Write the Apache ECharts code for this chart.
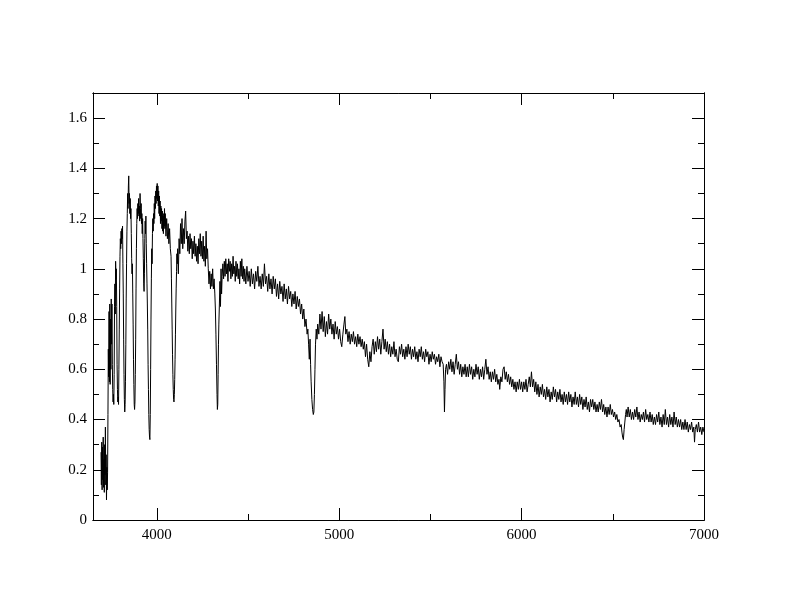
<!DOCTYPE html>
<html>
<head>
<meta charset="utf-8">
<title>Spectrum</title>
<script src="https://cdn.jsdelivr.net/npm/echarts@6/dist/echarts.min.js"></script>
<style>
  html, body { margin: 0; padding: 0; background: #fff; }
  #chart { width: 792px; height: 612px; }
</style>
</head>
<body>
<div id="chart"></div>
<script>
// wavelength / flux pairs, split by region
const balmerJump = [
  [3694,0.27],[3696,0.14],[3698,0.31],[3700,0.12],[3702,0.29],[3704,0.16],[3706,0.33],[3708,0.13],
  [3710,0.24],[3712,0.11],[3714,0.30],[3716,0.18],[3718,0.37],[3720,0.14],[3722,0.26],[3724,0.08],
  [3726,0.21],[3728,0.12],[3730,0.19]
]

const balmerSeries = [
  [3732,0.42],[3734,0.68],[3736,0.57],[3738,0.83],[3740,0.55],[3742,0.86],[3744,0.54],[3746,0.80],
  [3748,0.60],[3750,0.88],[3752,0.70],[3754,0.86],[3756,0.62],[3758,0.52],[3760,0.47],[3762,0.50],
  [3764,0.46],[3766,0.58],[3768,0.85],[3770,0.94],[3772,0.82],[3774,1.03],[3776,0.96],[3778,1.00],
  [3780,0.85],[3782,0.62],[3784,0.52],[3786,0.47],[3788,0.49],[3790,0.46],[3792,0.60],[3794,0.76],
  [3796,0.92],[3798,1.05],[3800,1.12],[3802,1.08],[3804,1.15],[3806,1.10],[3808,1.16],[3810,1.12],
  [3812,1.17],[3814,1.02],[3816,0.90],[3818,0.72],[3820,0.58],[3822,0.48],[3824,0.43],[3826,0.46],
  [3828,0.55],[3830,0.70],[3832,0.88],[3834,1.02],[3836,1.15],[3838,1.22],[3840,1.30],[3842,1.24],
  [3844,1.33],[3846,1.37],[3848,1.26],[3850,1.30],[3852,1.22],[3854,1.28],[3856,1.20],[3858,1.24],
  [3860,1.14],[3862,1.04],[3864,0.98],[3866,1.02],[3868,0.90],[3870,0.78],[3872,0.64],[3874,0.54],
  [3876,0.46],[3878,0.44],[3880,0.47],[3882,0.58],[3884,0.72],[3886,0.92],[3888,1.08],[3890,1.18],
  [3892,1.24],[3894,1.20],[3896,1.26],[3898,1.22],[3900,1.28],[3902,1.21],[3904,1.25],[3906,1.19],
  [3908,1.30],[3910,1.24],[3912,1.20],[3914,1.26],[3916,1.18],[3918,1.22],[3920,1.14],[3922,1.20],
  [3924,1.12],[3926,1.04],[3928,0.94],[3930,0.91],[3932,0.98],[3934,1.12],[3936,1.19],[3938,1.14],
  [3940,1.21],[3942,1.10],[3944,1.02],[3946,0.94],[3948,0.86],[3950,0.76],[3952,0.62],[3954,0.52],
  [3956,0.42],[3958,0.36],[3960,0.33],[3962,0.32],[3964,0.42],[3966,0.60],[3968,0.80],[3970,0.96],
  [3972,1.08],[3974,1.02],[3976,1.14],[3978,1.20],[3980,1.15],[3982,1.22],[3984,1.18],[3986,1.26],
  [3988,1.20],[3990,1.29],[3992,1.24],[3994,1.31],[3996,1.26],[3998,1.33],[4000,1.28],[4002,1.34],
  [4004,1.27],[4006,1.33],[4008,1.25],[4010,1.31],[4012,1.22],[4014,1.29],[4016,1.21],[4018,1.27],
  [4020,1.18],[4022,1.25],[4024,1.19],[4026,1.24],[4028,1.16],[4030,1.23],[4032,1.15],[4034,1.21],
  [4036,1.14],[4038,1.22],[4040,1.17],[4042,1.24],[4044,1.16],[4046,1.22],[4050,1.13],[4054,1.20],
  [4058,1.12],[4062,1.18],[4066,1.10],[4070,1.16],[4074,1.08],[4078,1.05],[4080,0.96],[4082,0.86],
  [4084,0.76],[4086,0.66],[4088,0.58],[4090,0.52],[4092,0.48],[4094,0.47],[4096,0.50],[4098,0.56],
  [4100,0.64],[4102,0.74],[4104,0.84],[4106,0.92],[4108,0.99],[4110,1.06],[4112,1.02]
]

const blueContinuum = [
  [4114,1.08],[4118,0.98],[4122,1.12],[4126,1.06],[4130,1.18],[4134,1.10],[4138,1.20],[4142,1.08],
  [4146,1.16],[4150,1.10],[4154,1.19],[4158,1.23],[4162,1.12],[4166,1.15],[4170,1.07],[4174,1.13],
  [4178,1.06],[4182,1.14],[4186,1.08],[4190,1.12],[4194,1.04],[4198,1.11],[4202,1.06],[4206,1.13],
  [4210,1.05],[4214,1.10],[4218,1.03],[4222,1.09],[4226,1.02],[4230,1.12],[4234,1.06],[4238,1.14],
  [4242,1.05],[4246,1.11],[4250,1.04],[4254,1.13],[4258,1.03],[4262,1.09],[4266,1.01],[4270,1.15],
  [4274,1.04],[4278,1.08],[4282,1.00],[4286,0.94],[4290,0.99],[4294,0.92],[4298,0.98],[4302,0.93],
  [4306,1.00],[4310,0.92],[4314,0.96],[4318,0.90],[4321,0.84],[4324,0.74],[4327,0.62],[4330,0.50],
  [4332,0.44],[4334,0.46],[4336,0.58],[4338,0.70],[4340,0.78],[4343,0.86],[4346,0.95],[4349,0.85],
  [4352,1.00],[4355,0.90],[4358,0.97],[4362,1.02],[4366,0.96],[4370,1.03],[4374,0.97],[4378,1.04],
  [4382,0.98],[4386,1.02],[4390,0.95],[4394,1.04],[4398,0.99],[4402,1.03],[4406,0.96],[4410,1.02],
  [4414,0.97],[4418,1.05],[4422,0.98],[4426,1.01],[4430,0.95],[4434,1.03],[4438,0.97],[4442,1.02],
  [4446,0.96],[4450,1.00],[4454,0.94],[4458,1.03],[4462,0.97],[4466,1.04],[4470,0.96],[4474,1.01],
  [4478,0.95],[4482,1.00]
]

const greenRegion = [
  [4488,0.94],[4494,1.01],[4500,0.95],[4506,0.99],[4512,0.93],[4518,1.00],[4524,0.94],[4530,0.98],
  [4536,0.92],[4542,0.99],[4548,0.95],[4554,1.01],[4560,0.93],[4566,0.97],[4572,0.92],[4578,0.98],
  [4584,0.93],[4590,1.02],[4596,0.94],[4602,0.97],[4608,0.91],[4614,0.98],[4620,0.92],[4626,0.96],
  [4632,0.90],[4638,0.97],[4644,0.92],[4650,0.96],[4656,0.89],[4662,0.94],[4668,0.88],[4674,0.95],
  [4680,0.90],[4686,0.93],[4692,0.87],[4698,0.94],[4704,0.88],[4710,0.92],[4716,0.86],[4722,0.93],
  [4728,0.88],[4734,0.91],[4740,0.85],[4746,0.90],[4752,0.86],[4758,0.91],[4764,0.84],[4770,0.89],
  [4776,0.85],[4782,0.88],[4788,0.82],[4794,0.86],[4800,0.80],[4806,0.84],[4812,0.77],[4818,0.80],
  [4824,0.74],[4828,0.76],[4832,0.70],[4836,0.64],[4840,0.72],[4843,0.62],[4846,0.55],[4850,0.48],
  [4854,0.44],[4858,0.42],[4861,0.43],[4864,0.50],[4867,0.60],[4870,0.70],[4874,0.76],[4878,0.72],
  [4882,0.78],[4888,0.74],[4894,0.82],[4900,0.76],[4906,0.83],[4912,0.75],[4918,0.81],[4924,0.73],
  [4930,0.79],[4936,0.74],[4942,0.82],[4948,0.76],[4954,0.80],[4960,0.74],[4966,0.78],[4972,0.72],
  [4978,0.79],[4984,0.74],[4990,0.77],[4996,0.72],[5002,0.76],[5008,0.71],[5014,0.69],[5020,0.74],
  [5026,0.78],[5031,0.81],[5036,0.74],[5042,0.76],[5048,0.71],[5054,0.75],[5060,0.70],[5066,0.74],
  [5072,0.71],[5078,0.75],[5084,0.70],[5090,0.73],[5096,0.69],[5102,0.74],[5108,0.70],[5114,0.73],
  [5120,0.69],[5126,0.72],[5132,0.68],[5138,0.71],[5144,0.65],[5150,0.70],[5156,0.64],[5162,0.61],
  [5168,0.67],[5174,0.63],[5180,0.69],[5186,0.72],[5192,0.66],[5198,0.71],[5204,0.67],[5210,0.73],
  [5216,0.68],[5222,0.72],[5228,0.66],[5234,0.71],[5240,0.76],[5246,0.68],[5252,0.72],[5258,0.67],
  [5264,0.71],[5270,0.66],[5276,0.70],[5282,0.65],[5288,0.69],[5294,0.66],[5300,0.71],[5306,0.65],
  [5312,0.68],[5318,0.64],[5324,0.63],[5330,0.69],[5336,0.66],[5342,0.70],[5348,0.65],[5354,0.68],
  [5360,0.64],[5366,0.69],[5372,0.65],[5378,0.70],[5384,0.66],[5390,0.69],[5396,0.64],[5402,0.68],
  [5408,0.65],[5414,0.69],[5420,0.64],[5426,0.67],[5432,0.63],[5438,0.68],[5444,0.65],[5450,0.69],
  [5456,0.64],[5462,0.67],[5468,0.63],[5474,0.68],[5480,0.65],[5486,0.67],[5492,0.62],[5498,0.66],
  [5504,0.63],[5510,0.67],[5516,0.64],[5522,0.66],[5528,0.62],[5534,0.65],[5540,0.63],[5546,0.66],
  [5552,0.61],[5558,0.65],[5564,0.63],[5570,0.62],[5574,0.55],[5577,0.43],[5580,0.52],[5583,0.60]
]

const redRegion = [
  [5588,0.62],[5594,0.58],[5600,0.63],[5606,0.60],[5612,0.64],[5618,0.59],[5624,0.63],[5630,0.58],
  [5636,0.62],[5642,0.66],[5648,0.60],[5654,0.63],[5660,0.58],[5666,0.62],[5672,0.57],[5678,0.61],
  [5684,0.58],[5690,0.62],[5696,0.57],[5702,0.61],[5708,0.57],[5714,0.62],[5720,0.58],[5726,0.61],
  [5732,0.56],[5738,0.60],[5744,0.57],[5750,0.62],[5756,0.58],[5762,0.61],[5768,0.56],[5774,0.60],
  [5780,0.57],[5786,0.61],[5792,0.56],[5798,0.60],[5804,0.64],[5810,0.58],[5816,0.61],[5822,0.56],
  [5828,0.59],[5834,0.55],[5840,0.59],[5846,0.56],[5852,0.60],[5858,0.55],[5864,0.58],[5870,0.54],
  [5876,0.56],[5880,0.52],[5886,0.57],[5892,0.55],[5898,0.60],[5904,0.61],[5910,0.56],[5916,0.59],
  [5922,0.55],[5928,0.58],[5934,0.54],[5940,0.57],[5946,0.53],[5952,0.56],[5958,0.52],[5964,0.55],
  [5970,0.51],[5976,0.55],[5982,0.52],[5988,0.56],[5994,0.52],[6000,0.55],[6006,0.51],[6012,0.55],
  [6018,0.52],[6024,0.56],[6030,0.51],[6036,0.54],[6042,0.57],[6048,0.53],[6054,0.59],[6060,0.53],
  [6066,0.56],[6072,0.51],[6078,0.55],[6084,0.50],[6090,0.54],[6096,0.49],[6102,0.53],[6108,0.50],
  [6114,0.54],[6120,0.49],[6126,0.52],[6132,0.48],[6138,0.53],[6144,0.49],[6150,0.52],[6156,0.47],
  [6162,0.51],[6168,0.48],[6174,0.53],[6180,0.49],[6186,0.52],[6192,0.47],[6198,0.51],[6204,0.48],
  [6210,0.52],[6216,0.47],[6222,0.50],[6228,0.46],[6234,0.51],[6240,0.47],[6246,0.50],[6252,0.46],
  [6258,0.51],[6264,0.47],[6270,0.50],[6276,0.45],[6282,0.49],[6288,0.46],[6294,0.51],[6300,0.46],
  [6306,0.49],[6312,0.45],[6318,0.50],[6324,0.46],[6330,0.49],[6336,0.44],[6342,0.48],[6348,0.45],
  [6354,0.49],[6360,0.44],[6366,0.47],[6372,0.43],[6378,0.48],[6384,0.45],[6390,0.48],[6396,0.44],
  [6402,0.47],[6408,0.43],[6414,0.46],[6420,0.43],[6426,0.47],[6432,0.44],[6438,0.48],[6444,0.43],
  [6450,0.46],[6456,0.42],[6462,0.45],[6468,0.41],[6474,0.45],[6480,0.42],[6486,0.46],[6492,0.42],
  [6498,0.44],[6504,0.41],[6510,0.43],[6516,0.40],[6522,0.42],[6528,0.39],[6534,0.40],[6540,0.37],
  [6546,0.38],[6550,0.35],[6554,0.33],[6558,0.32],[6562,0.36],[6566,0.39],[6570,0.42],[6574,0.44],
  [6578,0.41],[6584,0.45],[6590,0.41],[6596,0.44],[6602,0.40],[6608,0.43],[6614,0.40],[6620,0.44],
  [6626,0.41],[6632,0.45],[6638,0.40],[6644,0.43],[6650,0.39],[6656,0.42],[6662,0.40],[6668,0.43],
  [6674,0.39],[6680,0.44],[6686,0.40],[6692,0.42],[6698,0.39],[6704,0.43],[6710,0.39],[6716,0.42],
  [6722,0.38],[6728,0.41],[6734,0.38],[6740,0.42],[6746,0.39],[6752,0.43],[6758,0.38],[6764,0.41],
  [6770,0.37],[6776,0.42],[6782,0.38],[6788,0.44],[6794,0.38],[6800,0.41],[6806,0.37],[6812,0.42],
  [6818,0.38],[6824,0.41],[6830,0.37],[6836,0.43],[6842,0.38],[6848,0.41],[6854,0.37],[6860,0.40],
  [6866,0.37],[6872,0.40],[6878,0.36],[6884,0.39],[6890,0.36],[6896,0.40],[6902,0.36],[6908,0.39],
  [6914,0.35],[6920,0.38],[6926,0.36],[6932,0.39],[6938,0.35],[6944,0.37],[6948,0.31],[6952,0.36],
  [6958,0.38],[6964,0.35],[6970,0.39],[6976,0.35],[6982,0.37],[6988,0.34],[6994,0.37],[7000,0.35]
]

// tick positions
const xMajorTicks = [4000, 5000, 6000, 7000]
const xMinorTicks = [4500, 5500, 6500]
const yMajorTicks = [0, 0.2, 0.4, 0.6, 0.8, 1, 1.2, 1.4, 1.6]
const yMinorTicks = [0.1, 0.3, 0.5, 0.7, 0.9, 1.1, 1.3, 1.5]

const X_MIN = 3650
const X_MAX = 7000
const Y_MIN = 0
const Y_MAX = 1.7

const labelFont = {
  color: '#000',
  fontFamily: 'Liberation Serif',
  fontSize: 15,
  formatter: (v) => String(v)
}

function makeX(position, ticks, len, withLabels) {
  return {
    type: 'value',
    position: position,
    min: X_MIN,
    max: X_MAX,
    axisLine: { show: true, onZero: false, lineStyle: { color: '#000', width: 1 } },
    axisTick: {
      show: true,
      inside: true,
      length: len,
      customValues: ticks,
      lineStyle: { color: '#000', width: 1 }
    },
    axisLabel: withLabels
      ? Object.assign({ show: true, margin: 8, customValues: ticks }, labelFont)
      : { show: false },
    splitLine: { show: false }
  }
}

function makeY(position, ticks, len, withLabels) {
  return {
    type: 'value',
    position: position,
    min: Y_MIN,
    max: Y_MAX,
    axisLine: { show: true, onZero: false, lineStyle: { color: '#000', width: 1 } },
    axisTick: {
      show: true,
      inside: true,
      length: len,
      customValues: ticks,
      lineStyle: { color: '#000', width: 1 }
    },
    axisLabel: withLabels
      ? Object.assign({ show: true, margin: 6, customValues: ticks }, labelFont)
      : { show: false },
    splitLine: { show: false }
  }
}

const chart = echarts.init(document.getElementById('chart'), null, { renderer: 'canvas' })

const options = {
  backgroundColor: '#fff',
  animation: false,
  grid: {
    left: 93,
    right: 88,
    top: 93,
    bottom: 92,
    containLabel: false
  },
  xAxis: [
    makeX('bottom', xMajorTicks, 12, true),
    makeX('bottom', xMinorTicks, 6, false),
    makeX('top', xMajorTicks, 12, false),
    makeX('top', xMinorTicks, 6, false)
  ],
  yAxis: [
    makeY('left', yMajorTicks, 12, true),
    makeY('left', yMinorTicks, 6, false),
    makeY('right', yMajorTicks, 12, false),
    makeY('right', yMinorTicks, 6, false)
  ],
  series: [
    {
      name: 'flux',
      type: 'line',
      xAxisIndex: 0,
      yAxisIndex: 0,
      showSymbol: false,
      symbol: 'none',
      smooth: false,
      sampling: null,
      lineStyle: { color: '#000', width: 1 },
      data: [].concat(balmerJump, balmerSeries, blueContinuum, greenRegion, redRegion)
    }
  ]
}

chart.setOption(options)
</script>
</body>
</html>
